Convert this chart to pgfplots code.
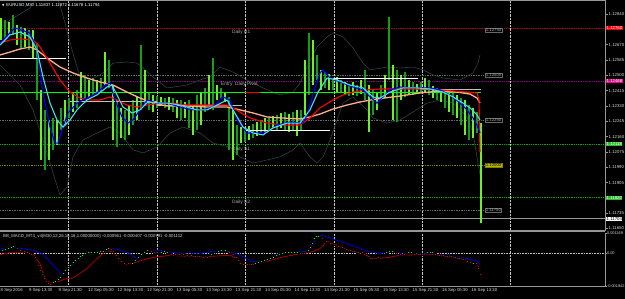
\documentclass[border=0pt]{standalone}
\usepackage{fontspec}
\setmainfont{Liberation Sans}
\newfontfamily\dejavu{DejaVu Sans}
\usepackage{pgfplots}
\pgfplotsset{compat=1.18}
\usepackage{pgfplotstable}

\definecolor{barA}{RGB}{110,240,40}
\definecolor{barB}{RGB}{20,160,20}
\definecolor{maBlue}{RGB}{0,0,255}
\definecolor{maCyan}{RGB}{70,225,230}
\definecolor{maRed}{RGB}{255,0,0}
\definecolor{maSalmon}{RGB}{255,175,135}
\definecolor{bbc}{RGB}{45,65,65}
\definecolor{brightGreen}{RGB}{0,255,0}
\definecolor{lvlGreen}{RGB}{0,175,0}
\definecolor{lvlOlive}{RGB}{128,128,0}
\definecolor{lvlMag}{RGB}{140,0,140}
\definecolor{lvlRed}{RGB}{200,0,0}
\definecolor{lvlGray}{RGB}{105,105,105}
\definecolor{gridc}{RGB}{195,195,195}
\definecolor{borderc}{RGB}{150,150,150}
\definecolor{labc}{RGB}{215,215,215}
\definecolor{txtc}{RGB}{170,170,170}
\definecolor{segW}{RGB}{255,255,255}
\definecolor{segG}{RGB}{190,190,190}
\definecolor{mBlue}{RGB}{0,0,210}
\definecolor{mRed}{RGB}{170,0,0}
\definecolor{dotG}{RGB}{0,255,0}
\definecolor{dotR}{RGB}{255,0,0}

\newcommand\fa{\fontsize{4.3}{5}\selectfont}
\newcommand\fc{\fontsize{3.9}{4.5}\selectfont}
\newcommand\fb{\fontsize{4.8}{5.5}\selectfont}

% ---------- price bars: x, high, low ----------
\pgfplotstableread{
x hi lo
1 1.12818 1.12696
9 1.12796 1.12718
17 1.12779 1.12668
25 1.12763 1.12657
33 1.12752 1.12596
41 1.12419 1.12030
49 1.12252 1.12030
57 1.12252 1.12113
65 1.12363 1.12224
73 1.12407 1.12296
81 1.12518 1.12363
89 1.12474 1.12380
97 1.12474 1.12402
105 1.12629 1.12446
113 1.12446 1.12141
121 1.12319 1.12152
129 1.12335 1.12169
137 1.12380 1.12252
145 1.12530 1.12335
153 1.12391 1.12296
161 1.12380 1.12330
169 1.12380 1.12308
177 1.12363 1.12263
185 1.12352 1.12263
193 1.12335 1.12169
201 1.12402 1.12224
209 1.12502 1.12335
217 1.12446 1.12363
225 1.12407 1.12352
233 1.12308 1.12030
241 1.12213 1.12124
249 1.12219 1.12141
257 1.12241 1.12163
265 1.12263 1.12180
273 1.12274 1.12208
281 1.12291 1.12208
289 1.12285 1.12185
297 1.12308 1.12163
305 1.12585 1.12280
313 1.12696 1.12446
321 1.12530 1.12419
329 1.12507 1.12419
337 1.12491 1.12407
345 1.12463 1.12391
353 1.12463 1.12391
361 1.12474 1.12396
369 1.12446 1.12185
377 1.12407 1.12308
385 1.12502 1.12374
393 1.12557 1.12252
401 1.12502 1.12363
409 1.12474 1.12391
417 1.12452 1.12396
425 1.12485 1.12407
433 1.12441 1.12374
441 1.12419 1.12352
449 1.12407 1.12296
457 1.12391 1.12263
465 1.12363 1.12169
473 1.12319 1.12152
481 1.12235 1.11680
}\barsA
\pgfplotstableread{
x hi lo
5 1.12807 1.12707
13 1.12835 1.12724
21 1.12768 1.12652
29 1.12752 1.12641
37 1.12679 1.12363
45 1.12308 1.11975
53 1.12263 1.12086
61 1.12319 1.12197
69 1.12374 1.12263
77 1.12419 1.12319
85 1.12502 1.12374
93 1.12485 1.12391
101 1.12485 1.12407
109 1.12585 1.12430
117 1.12363 1.12102
125 1.12308 1.12141
133 1.12363 1.12224
141 1.12668 1.12308
149 1.12407 1.12308
157 1.12385 1.12319
165 1.12374 1.12319
173 1.12374 1.12296
181 1.12363 1.12252
189 1.12363 1.12208
197 1.12391 1.12197
205 1.12430 1.12296
213 1.12596 1.12308
221 1.12430 1.12374
229 1.12380 1.12086
237 1.12224 1.12058
245 1.12208 1.12130
253 1.12230 1.12152
261 1.12252 1.12185
269 1.12269 1.12197
277 1.12280 1.12197
285 1.12296 1.12197
293 1.12296 1.12197
301 1.12308 1.12197
309 1.12735 1.12391
317 1.12613 1.12474
325 1.12518 1.12430
333 1.12485 1.12419
341 1.12474 1.12407
349 1.12452 1.12385
357 1.12446 1.12385
365 1.12530 1.12363
373 1.12419 1.12280
381 1.12446 1.12363
389 1.12824 1.12474
397 1.12530 1.12241
405 1.12518 1.12380
413 1.12463 1.12391
421 1.12463 1.12402
429 1.12474 1.12391
437 1.12430 1.12363
445 1.12419 1.12319
453 1.12402 1.12280
461 1.12374 1.12224
469 1.12335 1.12141
477 1.12296 1.12180
}\barsB

% ---------- moving averages ----------
\pgfplotstableread{
x y
0 1.12679
15 1.12763
30 1.12735
37 1.12641
43 1.12402
50 1.12213
55 1.12124
58 1.12124
62 1.12197
68 1.12291
77 1.12346
87 1.12374
97 1.12402
105 1.12446
110 1.12457
115 1.12363
122 1.12269
128 1.12235
133 1.12252
140 1.12308
147 1.12363
157 1.12346
167 1.12346
180 1.12324
193 1.12308
203 1.12308
213 1.12324
223 1.12380
230 1.12363
237 1.12252
247 1.12180
257 1.12180
267 1.12185
277 1.12224
290 1.12241
302 1.12235
305 1.12252
310 1.12335
315 1.12430
320 1.12513
323 1.12530
330 1.12485
340 1.12463
353 1.12435
363 1.12419
370 1.12380
377 1.12346
383 1.12380
390 1.12419
400 1.12435
410 1.12430
420 1.12430
430 1.12430
440 1.12419
450 1.12391
460 1.12346
467 1.12308
473 1.12263
477 1.12224
480 1.12180
}\maBlueT
\pgfplotstableread{
x y
0 1.12668
10 1.12724
20 1.12740
30 1.12713
37 1.12641
43 1.12491
50 1.12346
57 1.12252
63 1.12213
70 1.12252
77 1.12308
87 1.12363
97 1.12391
107 1.12435
112 1.12446
117 1.12391
123 1.12324
132 1.12291
140 1.12308
148 1.12352
160 1.12346
167 1.12346
180 1.12335
197 1.12308
207 1.12308
217 1.12335
227 1.12363
233 1.12308
243 1.12213
253 1.12180
263 1.12169
273 1.12208
287 1.12235
300 1.12235
310 1.12308
318 1.12407
327 1.12485
337 1.12474
350 1.12446
363 1.12430
373 1.12380
380 1.12374
390 1.12407
403 1.12430
417 1.12430
430 1.12424
443 1.12407
453 1.12380
463 1.12346
470 1.12319
477 1.12280
480 1.12252
}\maCyanT
\pgfplotstableread{
x y
0 1.12679
10 1.12696
20 1.12702
33 1.12696
40 1.12657
50 1.12568
60 1.12474
70 1.12407
80 1.12374
90 1.12363
100 1.12363
110 1.12380
117 1.12363
127 1.12335
137 1.12324
147 1.12335
160 1.12346
170 1.12346
187 1.12335
207 1.12335
227 1.12335
233 1.12319
250 1.12263
267 1.12235
283 1.12224
300 1.12224
310 1.12263
320 1.12319
333 1.12363
343 1.12391
353 1.12407
367 1.12419
380 1.12424
400 1.12424
427 1.12424
440 1.12419
453 1.12413
467 1.12407
477 1.12402
479 1.12363
480 1.12074
}\maRedT
\pgfplotstableread{
x y
0 1.12613
10 1.12629
20 1.12646
30 1.12657
37 1.12641
47 1.12596
60 1.12546
73 1.12513
87 1.12485
100 1.12463
113 1.12446
127 1.12407
140 1.12374
153 1.12346
167 1.12330
187 1.12330
207 1.12324
227 1.12324
240 1.12308
253 1.12291
267 1.12269
283 1.12263
300 1.12258
310 1.12269
320 1.12285
333 1.12313
347 1.12335
360 1.12352
377 1.12369
400 1.12385
420 1.12402
440 1.12413
457 1.12407
470 1.12396
477 1.12374
480 1.12346
}\maSalT
% ---------- Bollinger bands ----------
\pgfplotstableread{
x y
0 1.12763
10 1.12807
20 1.12840
30 1.12874
38 1.12946
48 1.13029
56 1.12946
60 1.12890
65 1.12790
72 1.12641
80 1.12491
90 1.12474
100 1.12502
107 1.12530
113 1.12568
127 1.12574
137 1.12568
143 1.12541
153 1.12491
167 1.12430
187 1.12446
200 1.12474
210 1.12491
220 1.12546
233 1.12518
247 1.12474
263 1.12430
280 1.12391
293 1.12407
300 1.12457
307 1.12546
317 1.12657
327 1.12713
333 1.12735
343 1.12713
353 1.12652
363 1.12568
370 1.12530
387 1.12546
400 1.12541
413 1.12546
423 1.12530
433 1.12502
443 1.12485
460 1.12474
473 1.12513
478 1.12568
480 1.12613
}\bbUp
\pgfplotstableread{
x y
0 1.12557
10 1.12502
20 1.12446
33 1.12308
43 1.12141
53 1.11958
60 1.11836
67 1.11880
73 1.12047
83 1.12141
97 1.12180
110 1.12213
120 1.12180
133 1.12086
143 1.12069
157 1.12102
170 1.12180
183 1.12213
200 1.12180
213 1.12124
230 1.12102
240 1.12047
253 1.12013
267 1.12030
280 1.12047
293 1.12086
300 1.12124
310 1.12047
317 1.12013
323 1.12047
330 1.12141
337 1.12252
343 1.12346
353 1.12380
367 1.12308
373 1.12263
387 1.12235
400 1.12252
413 1.12296
427 1.12346
440 1.12363
453 1.12346
467 1.12269
473 1.12180
480 1.11947
}\bbLo

% ---------- MACD ----------
\pgfplotstableread{
x y
2 0.000205
5 0.000261
8 0.000318
11 0.000375
13 0.000432
53 -0.001613
55 -0.001557
58 -0.001443
60 -0.001329
63 -0.001102
65 -0.000932
68 -0.000761
70 -0.000648
73 -0.000477
75 -0.000364
78 -0.000250
80 -0.000136
82 -0.000080
85 0.000006
88 0.000051
91 0.000062
94 0.000074
97 0.000091
100 0.000119
103 0.000148
106 0.000233
108 0.000318
132 -0.000534
135 -0.000364
138 -0.000193
141 -0.000023
144 0.000091
147 0.000205
161 0.000091
164 0.000119
167 0.000091
211 -0.000023
214 0.000006
218 0.000148
221 0.000205
225 0.000205
255 -0.000562
258 -0.000477
261 -0.000420
264 -0.000364
267 -0.000307
270 -0.000250
273 -0.000193
276 -0.000108
279 -0.000023
282 0.000034
285 0.000051
288 0.000062
291 0.000074
294 0.000091
297 0.000091
308 0.000205
310 0.000375
312 0.000602
314 0.000886
316 0.001000
318 0.001000
386 0.000091
389 0.000131
392 0.000131
408 0.000091
411 0.000091
427 0.000074
430 0.000074
432 0.000074
473 -0.000534
}\macdG
\pgfplotstableread{
x y
17 0.000318
20 0.000205
24 0.000119
27 0.000051
31 -0.000023
35 -0.000193
38 -0.000648
40 -0.000932
42 -0.001159
44 -0.001386
46 -0.001557
48 -0.001670
50 -0.001727
111 0.000233
113 0.000131
116 -0.000080
118 -0.000290
121 -0.000420
124 -0.000534
128 -0.000562
151 0.000148
154 0.000091
157 0.000051
171 -0.000023
175 -0.000040
179 -0.000051
183 -0.000051
187 -0.000080
191 -0.000108
195 -0.000136
199 -0.000165
203 -0.000193
207 -0.000193
229 0.000062
233 -0.000023
236 -0.000193
238 -0.000364
240 -0.000534
243 -0.000608
247 -0.000619
251 -0.000619
300 -0.000006
304 -0.000006
322 0.000886
326 0.000716
330 0.000602
334 0.000517
338 0.000432
342 0.000347
346 0.000261
350 0.000205
354 0.000148
358 0.000091
362 0.000051
366 0.000034
370 -0.000290
374 -0.000290
378 -0.000193
396 0.000006
400 -0.000040
404 -0.000040
414 -0.000040
418 -0.000040
422 -0.000040
435 -0.000040
439 -0.000068
443 -0.000097
447 -0.000125
451 -0.000165
455 -0.000222
459 -0.000278
463 -0.000335
467 -0.000420
470 -0.000477
476 -0.000574
478 -0.000858
480 -0.001199
}\macdR
\pgfplotstableread{
x y
0 0.000261
13 0.000375
33 0.000187
43 -0.000023
53 -0.000648
62 -0.001216
67 -0.000932
77 -0.000307
87 0.000034
100 0.000148
110 0.000318
120 0.000205
130 -0.000006
137 -0.000307
147 0.000148
157 0.000205
170 0.000091
187 -0.000023
200 -0.000006
213 0.000131
227 0.000131
237 -0.000006
253 -0.000477
267 -0.000347
280 0.000034
290 0.000051
307 0.000131
317 0.000943
322 0.001040
337 0.000756
350 0.000506
367 0.000131
380 -0.000006
390 0.000091
410 -0.000006
417 0.000017
433 -0.000023
450 -0.000097
467 -0.000290
478 -0.000437
480 -0.000648
}\macdBlue
\pgfplotstableread{
x y
0 -0.000062
10 0.000051
23 0.000051
33 -0.000006
40 -0.000574
45 -0.001426
50 -0.001670
58 -0.001613
65 -0.001443
73 -0.001386
87 -0.000858
97 -0.000290
107 0.000187
113 0.000091
122 -0.000477
127 -0.000631
137 -0.000477
147 -0.000290
157 -0.000193
170 -0.000097
187 -0.000153
200 -0.000193
230 -0.000097
237 -0.000290
243 -0.000631
253 -0.000631
267 -0.000437
283 -0.000193
297 -0.000040
310 0.000051
320 0.000278
327 0.000699
337 0.000472
350 0.000131
363 -0.000006
373 -0.000290
387 -0.000233
400 -0.000097
417 -0.000062
433 -0.000062
450 -0.000193
467 -0.000381
477 -0.000574
480 -0.000932
}\macdRed

\begin{document}
\begin{tikzpicture}
\path[use as bounding box] (0,0) rectangle (625pt,299pt);
\fill[black] (0,0) rectangle (625pt,299pt);

% ================= main price window =================
\begin{axis}[
  at={(0pt,68pt)}, anchor=south west, scale only axis,
  width=605pt, height=231pt,
  xmin=0, xmax=605, ymin=1.11636, ymax=1.12918,
  clip mode=individual,
  axis line style={draw=none},
  scaled y ticks=false,
  xtick=\empty,
  extra x ticks={68.5,157,245,334,422,510},
  extra x tick labels={},
  extra x tick style={grid=major, major tick length=0pt},
  major grid style={gridc, densely dotted, line width=0.6pt},
  ytick={1.11650,1.11735,1.11905,1.11990,1.12075,1.12160,1.12245,1.12330,1.12415,1.12500,1.12585,1.12670,1.12840},
  yticklabels={1.11650,1.11735,1.11905,1.11990,1.12075,1.12160,1.12245,1.12330,1.12415,1.12500,1.12585,1.12670,1.12840},
  ytick pos=right, yticklabel pos=right,
  tick align=outside, major tick length=2.5pt,
  ytick style={draw=borderc, line width=0.4pt},
  yticklabel style={font=\fa, text=labc, anchor=west, inner sep=0pt, xshift=1pt},
]
% level lines
\addplot[lvlGray, densely dotted, line width=0.7pt] coordinates {(0,1.12500) (485,1.12500)};
\addplot[lvlGray, densely dotted, line width=0.7pt] coordinates {(0,1.12250) (485,1.12250)};
\addplot[lvlGray, densely dotted, line width=0.7pt] coordinates {(0,1.11750) (485,1.11750)};
\addplot[lvlOlive, densely dotted, line width=0.8pt] coordinates {(0,1.12000) (485,1.12000)};
\addplot[lvlRed, densely dotted, line width=0.8pt] coordinates {(0,1.12760) (605,1.12760)};
\addplot[lvlMag, densely dotted, line width=0.8pt] coordinates {(0,1.12468) (605,1.12468)};
\addplot[lvlGreen, densely dotted, line width=0.8pt] coordinates {(0,1.12118) (605,1.12118)};
\addplot[lvlGreen, densely dotted, line width=0.8pt] coordinates {(0,1.11820) (605,1.11820)};
\addplot[borderc, line width=0.6pt] coordinates {(0,1.11704) (605,1.11704)};
% Bollinger bands
\addplot[bbc, line width=0.6pt] table {\bbUp};
\addplot[bbc, line width=0.6pt] table {\bbLo};
% price bars
\addplot[draw=none, mark=none, error bars/.cd, y dir=minus, y explicit, error mark=none,
  error bar style={draw=barB, line width=1.3pt}]
  table[x=x, y=hi, y error minus expr=\thisrow{hi}-\thisrow{lo}] {\barsB};
\addplot[draw=none, mark=none, error bars/.cd, y dir=minus, y explicit, error mark=none,
  error bar style={draw=barA, line width=1.3pt}]
  table[x=x, y=hi, y error minus expr=\thisrow{hi}-\thisrow{lo}] {\barsA};
% bright green level and session lines
\addplot[brightGreen, line width=1pt] coordinates {(0,1.12407) (481,1.12407)};
\addplot[segW, line width=1pt] coordinates {(0,1.12591) (66,1.12591)};
\addplot[segG, line width=1pt] coordinates {(70,1.12355) (157,1.12355)};
\addplot[segG, line width=1pt] coordinates {(157,1.12335) (242,1.12335)};
\addplot[segW, line width=1pt] coordinates {(245,1.12191) (330,1.12191)};
\addplot[segW, line width=1pt] coordinates {(333,1.12480) (418,1.12480)};
\addplot[segG, line width=1pt] coordinates {(420,1.12419) (481,1.12419)};
\addplot[maRed, line width=1pt] coordinates {(245,1.12407) (260,1.12407)};
% moving averages
\addplot[maSalmon, line width=1.3pt] table {\maSalT};
\addplot[maRed, line width=1.1pt] table {\maRedT};
\addplot[maBlue, line width=1.1pt] table {\maBlueT};
\addplot[maCyan, line width=1.1pt] table {\maCyanT};
% frame
\draw[borderc, line width=0.8pt] (rel axis cs:0,1) -- (rel axis cs:1,1);
\draw[borderc, line width=0.8pt] (rel axis cs:1,1) -- (rel axis cs:1,0);
\draw[borderc, line width=1.6pt] (rel axis cs:0,0) -- (rel axis cs:1,0);
% texts
\node[anchor=west, text=white, font=\fa, inner sep=0pt] at (axis cs:2,1.12889)
  {{\dejavu\fontsize{3}{4}\selectfont ▼}\, EURUSD,M30 1.11837 1.11872 1.11678 1.11794};
\node[anchor=west, text=txtc, font=\fb, inner sep=0pt] at (axis cs:232,1.12740) {Daily R1};
\node[anchor=west, text=txtc, font=\fb, inner sep=0pt] at (axis cs:221,1.12452) {Entry\ \ Daily\ Pivot};
\node[anchor=west, text=txtc, font=\fb, inner sep=0pt] at (axis cs:232,1.12091) {Daily S1};
\node[anchor=west, text=txtc, font=\fb, inner sep=0pt] at (axis cs:232,1.11797) {Daily S2};
% inner level boxes
\node[anchor=west, draw=lvlGray, fill=black, text=txtc, font=\fa, inner sep=0.6pt] at (axis cs:485,1.12750) {1.12750};
\node[anchor=west, draw=lvlGray, fill=black, text=txtc, font=\fa, inner sep=0.6pt] at (axis cs:485,1.12500) {1.12500};
\node[anchor=west, draw=lvlGray, fill=black, text=txtc, font=\fa, inner sep=0.6pt] at (axis cs:485,1.12250) {1.12250};
\node[anchor=west, draw=lvlOlive, fill={rgb,255:red,185;green,185;blue,0}, text=black, font=\fa, inner sep=0.6pt] at (axis cs:485,1.12000) {1.12000};
\node[anchor=west, draw=lvlGray, fill=black, text=txtc, font=\fa, inner sep=0.6pt] at (axis cs:485,1.11750) {1.11750};
% right axis price boxes
\node[anchor=west, fill=red, text=white, font=\fa, inner sep=0.5pt] at (axis cs:606,1.12760) {1.12760};
\node[anchor=west, fill=magenta, text=white, font=\fa, inner sep=0.5pt] at (axis cs:606,1.12468) {1.12468};
\node[anchor=west, fill={rgb,255:red,40;green,190;blue,40}, text=white, font=\fa, inner sep=0.5pt] at (axis cs:606,1.12118) {1.12118};
\node[anchor=west, fill={rgb,255:red,40;green,190;blue,40}, text=white, font=\fa, inner sep=0.5pt] at (axis cs:606,1.11820) {1.11820};
\node[anchor=west, fill=white, text=black, font=\fa, inner sep=0.5pt] at (axis cs:606,1.11704) {1.11704};
\end{axis}

% ================= MACD window =================
\begin{axis}[
  at={(0pt,13pt)}, anchor=south west, scale only axis,
  width=605pt, height=53pt,
  xmin=0, xmax=605, ymin=-0.001842, ymax=0.001169,
  clip mode=individual,
  axis line style={draw=none},
  scaled y ticks=false, scaled x ticks=false,
  xtick={1,29.5,59,88.5,118,147.5,177,206.5,236,265.5,295,324.5,354,383.5,413,442.5,472},
  xticklabels={8 Sep 2016,9 Sep 13:30,9 Sep 21:30,12 Sep 05:30,12 Sep 13:30,12 Sep 21:30,13 Sep 05:30,13 Sep 13:30,13 Sep 21:30,14 Sep 05:30,14 Sep 13:30,14 Sep 21:30,15 Sep 05:30,15 Sep 13:30,15 Sep 21:30,16 Sep 05:30,16 Sep 13:30},
  xtick pos=bottom,
  xticklabel style={font=\fa, text=labc, anchor=north west, inner sep=0pt, yshift=-1pt, xshift=-0.5pt},
  extra x ticks={68.5,157,245,334,422,510},
  extra x tick labels={},
  extra x tick style={grid=major, major tick length=0pt},
  major grid style={gridc, densely dotted, line width=0.6pt},
  ytick={-0.001842,0,0.001169},
  yticklabels={-0.001842,0.00,0.001169},
  ytick pos=right, yticklabel pos=right,
  tick align=outside, major tick length=1.5pt,
  tick style={draw=borderc, line width=0.4pt},
  yticklabel style={font=\fc, text=labc, anchor=west, inner sep=0pt, xshift=0.3pt},
  extra y ticks={-0.001842},
  extra y tick labels={},
]
\addplot[gridc, densely dotted, line width=0.6pt] coordinates {(0,0) (605,0)};
\addplot[mRed, line width=0.8pt] table {\macdRed};
\addplot[mBlue, line width=0.8pt] table {\macdBlue};
\addplot[only marks, mark=square*, mark size=1pt, mark options={draw=none, fill=dotR}] table {\macdR};
\addplot[only marks, mark=square*, mark size=1pt, mark options={draw=none, fill=dotG}] table {\macdG};
\draw[borderc, line width=0.8pt] (rel axis cs:1,1) -- (rel axis cs:1,0);
\draw[borderc, line width=0.6pt] (rel axis cs:0,0) -- (rel axis cs:1,0);
\node[anchor=west, text=labc, font=\fa, inner sep=0pt] at (axis cs:3,0.00095)
  {BB\_MACD\_MT4\_v4(M30,12,26,10,16,1.00000000) -0.000561 -0.000407 -0.000791 -0.001112};
\end{axis}
\end{tikzpicture}
\end{document}
